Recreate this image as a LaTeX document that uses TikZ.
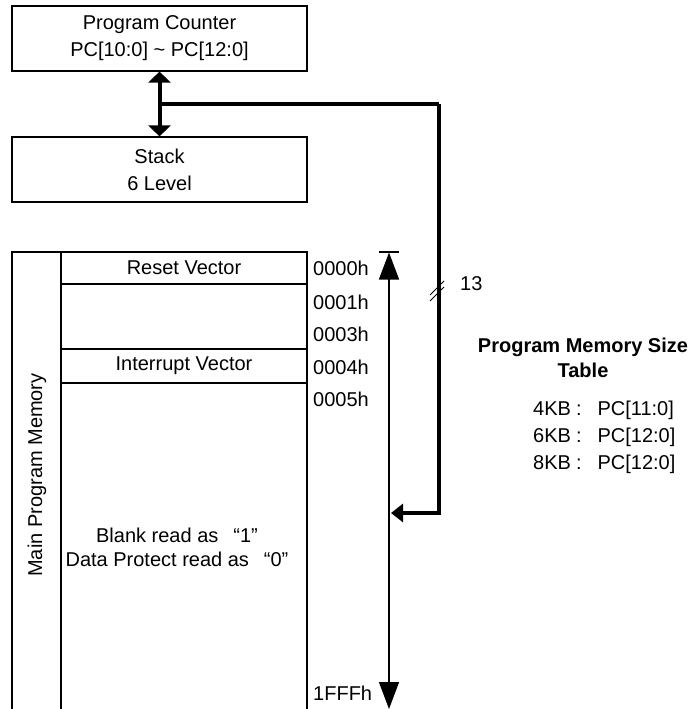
\documentclass[tikz,border=0pt]{standalone}
\usepackage{fontspec}
\setmainfont{Liberation Sans}
\usetikzlibrary{arrows.meta}
\begin{document}
\begin{tikzpicture}[x=1pt,y=-1pt,
  txt/.style={font=\fontsize{20}{27}\selectfont, inner sep=0pt},
  box/.style={draw, line width=1.2pt, minimum width=295pt, minimum height=65pt, align=center, txt},
  mline/.style={line width=1.2pt},
  bus/.style={line width=4pt},
  dbl/.style={bus, {Triangle[length=11pt,width=22pt]}-{Triangle[length=11pt,width=22pt]}},
  busarrow/.style={bus, -{Triangle[length=12pt,width=18pt]}},
  memarrow/.style={line width=1.3pt, {Triangle[length=27pt,width=20pt]}-{Triangle[length=27pt,width=20pt]}},
  addr/.style={txt, anchor=west}
]
\useasboundingbox (0,0) rectangle (690,709);

% boxes
\node[box] (pc) at (159.5,38.5) {Program Counter\\PC[10:0] \textasciitilde{} PC[12:0]};
\node[box] (stack) at (159.5,169.5) {Stack\\6 Level};

% memory structure
\draw[mline] (12,712) -- (12,252) -- (307,252) -- (307,712);
\draw[mline] (61,252) -- (61,712);
\draw[mline] (61,284) -- (307,284);
\draw[mline] (61,349) -- (307,349);
\draw[mline] (61,383) -- (307,383);

\node[txt] (reset) at (184,268) {Reset Vector};
\node[txt] (intr) at (184,366) {Interrupt Vector};
\node[txt, rotate=90] (mpm) at (37,475) {Main Program Memory};
\node[txt, align=center, font=\fontsize{20}{24}\selectfont] (blank) at (177,547)
  {Blank read as\hspace{15pt}“1”\\Data Protect read as\hspace{15pt}“0”};

% addresses
\node[addr] (a0) at (313,268) {0000h};
\node[addr] (a1) at (313,302) {0001h};
\node[addr] (a3) at (313,334) {0003h};
\node[addr] (a4) at (313,367) {0004h};
\node[addr] (a5) at (313,399) {0005h};
\node[addr] (af) at (313,693) {1FFFh};

% address range arrow
\coordinate (mtop) at (389,252.5);
\coordinate (mbot) at (389,709);
\coordinate (mhit) at (391,513);
\draw[mline] (379,252) -- (399,252);
\draw[memarrow] (mtop) -- (mbot);

% bus
\coordinate (j) at (159.5,104);
\coordinate (c1) at (438.5,104);
\coordinate (c2) at (438.5,513);
\draw[dbl] (pc.south) -- (stack.north);
\draw[bus, line cap=butt] (j) -- (c1);
\draw[busarrow, line join=miter] (c1) -- (c2) -- (mhit);

% bus width mark
\draw[line width=1pt] (430,295) -- (444,281);
\draw[line width=1pt] (430,301) -- (444,287);
\node[txt, anchor=west] (w13) at (460,284) {13};

% table
\node[txt, align=center, font=\bfseries\fontsize{20}{25}\selectfont] (ttl) at (583,357.5) {Program Memory Size\\Table};
\node[addr] (r4) at (533,410) {4KB\hspace{5pt}:\hspace{16pt}PC[11:0]};
\node[addr] (r6) at (533,437) {6KB\hspace{5pt}:\hspace{16pt}PC[12:0]};
\node[addr] (r8) at (533,464) {8KB\hspace{5pt}:\hspace{16pt}PC[12:0]};
\end{tikzpicture}
\end{document}
